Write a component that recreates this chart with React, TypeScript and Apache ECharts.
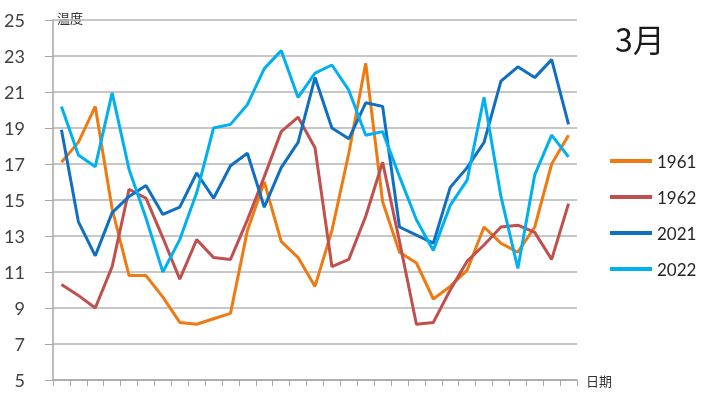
import React, { useEffect, useRef } from "react";
import * as echarts from "echarts";

const days = Array.from({ length: 31 }, (_, i) => String(i + 1));
const legendNames = ["1961", "1962", "2021", "2022"];
const s1961 = [17.1, 18.2, 20.2, 14.5, 10.8, 10.8, 9.6, 8.2, 8.1, 8.4, 8.7, 13.3, 16.0, 12.7, 11.8, 10.2, 13.3, 17.6, 22.6, 14.9, 12.1, 11.5, 9.5, 10.2, 11.1, 13.5, 12.6, 12.1, 13.5, 17.0, 18.6];
const s1962 = [10.3, 9.7, 9.0, 11.3, 15.6, 15.1, 12.9, 10.6, 12.8, 11.8, 11.7, 13.9, 16.3, 18.8, 19.6, 17.9, 11.3, 11.7, 14.1, 17.1, 12.7, 8.1, 8.2, 10.0, 11.6, 12.5, 13.5, 13.6, 13.2, 11.7, 14.8];
const s2021 = [18.9, 13.8, 11.9, 14.3, 15.2, 15.8, 14.2, 14.6, 16.5, 15.1, 16.9, 17.6, 14.6, 16.8, 18.2, 21.8, 19.0, 18.4, 20.4, 20.2, 13.5, 13.05, 12.6, 15.7, 16.8, 18.2, 21.6, 22.4, 21.8, 22.8, 19.2];
const s2022 = [20.2, 17.5, 16.85, 20.95, 16.7, 14.0, 11.0, 12.8, 15.4, 19.0, 19.2, 20.3, 22.3, 23.3, 20.7, 22.05, 22.5, 21.1, 18.6, 18.8, 16.3, 13.9, 12.2, 14.7, 16.1, 20.7, 15.2, 11.2, 16.4, 18.6, 17.4];
const colors = ["#EF7A12", "#C0504D", "#0F6FC2", "#00B0F0"];

export default function App() {
  const ref = useRef<HTMLDivElement>(null);
  useEffect(() => {
    if (!ref.current) return;
    const chart = echarts.init(ref.current, null, { renderer: "svg" });
    const seriesData = [s1961, s1962, s2021, s2022];
    chart.setOption({
      animation: false,
      color: colors,
      textStyle: { fontFamily: "Lato, 'Noto Sans', sans-serif" },
      grid: { left: 53, right: 130, top: 20, bottom: 18, containLabel: false, outerBoundsMode: "none" },
      legend: {
        orient: "vertical",
        left: 605,
        top: 146,
        icon: "rect",
        itemWidth: 42,
        itemHeight: 4,
        itemGap: 16,
        data: legendNames,
        textStyle: { fontSize: 17, color: "#262626", lineHeight: 20, fontFamily: "Lato, sans-serif" },
      },
      xAxis: {
        type: "category",
        data: days,
        boundaryGap: true,
        axisLine: { lineStyle: { color: "#A6A6A6", width: 1.5 } },
        axisTick: { show: true, interval: 0, length: 6, lineStyle: { color: "#A6A6A6" } },
        axisLabel: { show: false, interval: 0 },
        splitLine: { show: false },
      },
      yAxis: {
        type: "value",
        min: 5,
        max: 25,
        interval: 2,
        axisLine: { show: true, lineStyle: { color: "#A6A6A6", width: 1.5 } },
        axisTick: { show: true, length: 8, lineStyle: { color: "#A6A6A6" } },
        axisLabel: { fontSize: 18, color: "#404040", margin: 28, fontFamily: "Lato, sans-serif" },
        splitLine: { show: true, lineStyle: { color: "#B4B4B4", width: 1.5 } },
      },
      graphic: [
        { type: "text", left: 57, top: 11, style: { text: "温度", fontSize: 13, fill: "#333", fontFamily: "'Noto Sans CJK SC'" } },
        { type: "text", left: 586, top: 374, style: { text: "日期", fontSize: 13, fill: "#333", fontFamily: "'Noto Sans CJK SC'" } },
        { type: "text", left: 615, top: 22, style: { text: "3月", fontSize: 32, fill: "#1a1a1a", fontFamily: "'Noto Sans CJK SC'" } },
      ],
      series: legendNames.map((name, i) => ({
        name,
        type: "line",
        data: seriesData[i],
        symbol: "none",
        lineStyle: { width: 3, color: colors[i] },
        itemStyle: { color: colors[i] },
      })),
    });
    return () => chart.dispose();
  }, []);
  return <div ref={ref} style={{ position: "fixed", left: 0, top: 0, width: 707, height: 398 }} />;
}
